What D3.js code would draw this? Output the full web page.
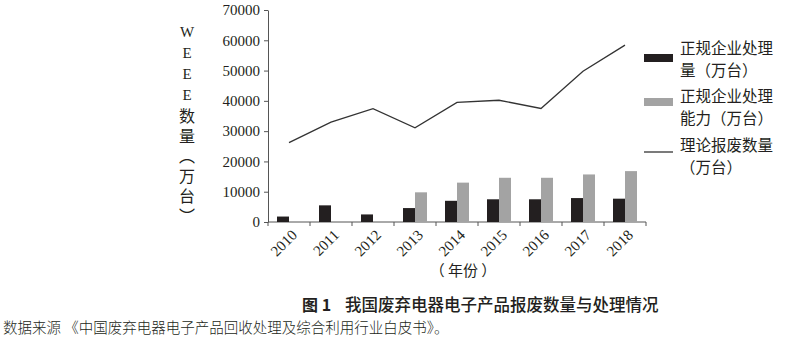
<!DOCTYPE html>
<html>
<head>
<meta charset="utf-8">
<script src="https://cdn.jsdelivr.net/npm/d3@7"></script>
<style>
  body { margin: 0; background: #fff; }
  svg { display: block; }
</style>
</head>
<body>
<svg id="chart"></svg>
<script>
const years = ["2010", "2011", "2012", "2013", "2014", "2015", "2016", "2017", "2018"];
const handled = [1800, 5500, 2500, 4600, 7000, 7500, 7500, 7900, 7700];
const capacity = [null, null, null, 9800, 13000, 14600, 14600, 15700, 16800];
const theoretical = [26200, 33000, 37400, 31100, 39500, 40200, 37500, 49800, 58400];
const yTicks = [0, 10000, 20000, 30000, 40000, 50000, 60000, 70000];
const yLabelLatin = "WEEE";
const yLabelCjk = "数量（万台）";
const legendItems = [
    { lines: ["正规企业处理", "量（万台）"], type: "bar", color: "#231f20" },
    { lines: ["正规企业处理", "能力（万台）"], type: "bar", color: "#a3a3a3" },
    { lines: ["理论报废数量", "（万台）"], type: "line", color: "#333" }
];

const W = 794, H = 351;
const serif = "'Liberation Serif', 'Times New Roman', serif";
const cjk = "'Noto Sans CJK SC', sans-serif";

const svg = d3.select("#chart").attr("width", W).attr("height", H);

const x = d3.scaleBand().domain(years).range([268, 646]);
const y = d3.scaleLinear().domain([0, 70000]).range([222, 10]);
const barW = 12;

// y axis
const yAxis = svg.append("g")
    .attr("transform", "translate(268,0)")
    .call(d3.axisLeft(y).tickValues(yTicks).tickSize(4).tickSizeOuter(0).tickPadding(4).tickFormat(d3.format("d")));
yAxis.selectAll("text").style("font-family", serif).style("font-size", "15px").attr("fill", "#231f20");
yAxis.selectAll("line, path").attr("stroke", "#555");

// x axis (ticks on band edges)
const xg = svg.append("g");
xg.append("line").attr("x1", 268).attr("x2", 646).attr("y1", 222).attr("y2", 222).attr("stroke", "#555");
const edges = years.map(d => x(d)).concat([x(years[years.length - 1]) + x.bandwidth()]);
xg.selectAll(".tk").data(edges).enter().append("line")
    .attr("x1", d => d).attr("x2", d => d)
    .attr("y1", 222).attr("y2", 226)
    .attr("stroke", "#555");
xg.selectAll(".xl").data(years).enter().append("text")
    .attr("transform", d => `translate(${x(d) + x.bandwidth() / 2 + 9},236) rotate(-45)`)
    .attr("text-anchor", "end")
    .style("font-family", serif)
    .style("font-size", "15px")
    .attr("fill", "#231f20")
    .text(d => d);

svg.append("text")
    .attr("x", 463).attr("y", 276)
    .attr("text-anchor", "middle")
    .style("font-family", cjk).style("font-size", "15px").attr("fill", "#231f20")
    .text("（ 年份 ）");

// y label, vertical upright text
const yl = svg.append("text")
    .attr("x", 187).attr("y", 24)
    .style("writing-mode", "vertical-rl")
    .style("text-orientation", "upright")
    .attr("fill", "#231f20");
yl.append("tspan")
    .style("font-family", serif).style("font-size", "15px").style("letter-spacing", "5px")
    .text(yLabelLatin);
yl.append("tspan")
    .style("font-family", cjk).style("font-size", "16px").style("letter-spacing", "4px")
    .text(yLabelCjk);

// bars
svg.append("g").selectAll("rect").data(years).enter().append("rect")
    .attr("x", d => x(d) + x.bandwidth() / 2 - barW)
    .attr("y", (d, i) => y(handled[i]))
    .attr("width", barW)
    .attr("height", (d, i) => y(0) - y(handled[i]))
    .attr("fill", legendItems[0].color);

svg.append("g").selectAll("rect").data(years.filter((d, i) => capacity[i] != null)).enter().append("rect")
    .attr("x", d => x(d) + x.bandwidth() / 2)
    .attr("y", d => y(capacity[years.indexOf(d)]))
    .attr("width", barW)
    .attr("height", d => y(0) - y(capacity[years.indexOf(d)]))
    .attr("fill", legendItems[1].color);

// line
const line = d3.line()
    .x((d, i) => x(years[i]) + x.bandwidth() / 2)
    .y(d => y(d));
svg.append("path")
    .datum(theoretical)
    .attr("fill", "none")
    .attr("stroke", "#333")
    .attr("stroke-width", 1.3)
    .attr("d", line);

// legend
const legY = [58, 102, 152];
const legend = svg.append("g");
legendItems.forEach((it, i) => {
    if (it.type === "bar") {
        legend.append("rect").attr("x", 644).attr("y", legY[i] - 4).attr("width", 29).attr("height", 8).attr("fill", it.color);
    } else {
        legend.append("line").attr("x1", 644).attr("x2", 673).attr("y1", legY[i]).attr("y2", legY[i]).attr("stroke", it.color).attr("stroke-width", 1.3);
    }
    it.lines.forEach((s, j) => {
        legend.append("text")
            .attr("x", 680)
            .attr("y", [54, 102, 151][i] + j * 22)
            .style("font-family", cjk).style("font-size", "15.5px").attr("fill", "#231f20")
            .text(s);
    });
});

// captions
svg.append("text")
    .attr("x", 302).attr("y", 311)
    .style("font-family", cjk).style("font-size", "16px").style("font-weight", "bold").attr("fill", "#231f20")
    .text("图 1");
svg.append("text")
    .attr("x", 345).attr("y", 311)
    .style("font-family", cjk).style("font-size", "16.5px").style("font-weight", "500").attr("fill", "#231f20")
    .text("我国废弃电器电子产品报废数量与处理情况");
svg.append("text")
    .attr("x", 3).attr("y", 333)
    .style("font-family", cjk).style("font-size", "14.5px").style("font-weight", "300").attr("fill", "#231f20")
    .text("数据来源 《中国废弃电器电子产品回收处理及综合利用行业白皮书》。");
</script>
</body>
</html>
